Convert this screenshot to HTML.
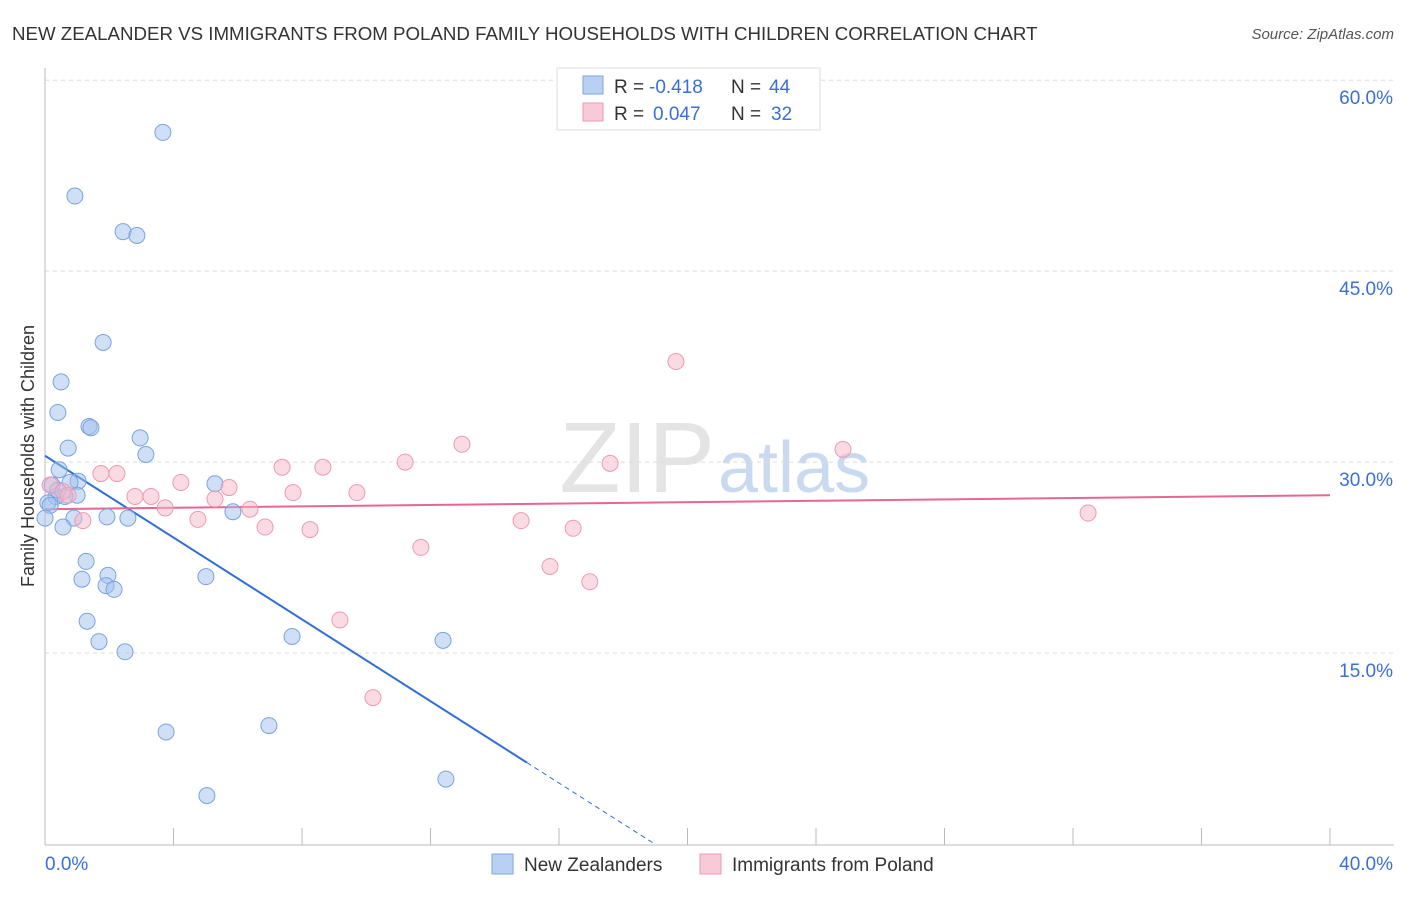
<!DOCTYPE html>
<html><head><meta charset="utf-8"><style>
body{margin:0;background:#fff;font-family:"Liberation Sans",sans-serif;}
svg text{font-family:"Liberation Sans",sans-serif;}
</style></head><body>
<svg id="chart" width="1406" height="892" xmlns="http://www.w3.org/2000/svg">
<text x="12" y="40" font-size="18.7" fill="#333">NEW ZEALANDER VS IMMIGRANTS FROM POLAND FAMILY HOUSEHOLDS WITH CHILDREN CORRELATION CHART</text>
<text x="1394" y="39" font-size="15" fill="#555" font-style="italic" text-anchor="end">Source: ZipAtlas.com</text>
<text x="715" y="492" font-size="100" fill="#e4e4e4" font-family="Liberation Serif" text-anchor="end">ZIP</text>
<text x="718" y="492" font-size="72" fill="#c9daf0">atlas</text>
<g id="grid"></g><g id="axes"></g><g id="trends"></g><g id="points"></g>
<text transform="translate(34,456) rotate(-90)" font-size="18" fill="#333" text-anchor="middle">Family Households with Children</text>
<g>
<rect x="557" y="68" width="263" height="62" fill="#fff" stroke="#ddd"/>
<rect x="583" y="76" width="20" height="18" fill="#b8d0f2" stroke="#7ea6e0"/>
<rect x="583" y="103" width="20" height="18" fill="#f8c9d6" stroke="#eb9bb4"/>
<text x="614" y="93" font-size="19" fill="#333">R =</text>
<text x="649" y="93" font-size="19" fill="#3a6fd8">-0.418</text>
<text x="731" y="93" font-size="19" fill="#333">N =</text>
<text x="769" y="93" font-size="19" fill="#3a6fd8">44</text>
<text x="614" y="120" font-size="19" fill="#333">R =</text>
<text x="653" y="120" font-size="19" fill="#3a6fd8">0.047</text>
<text x="731" y="120" font-size="19" fill="#333">N =</text>
<text x="771" y="120" font-size="19" fill="#3a6fd8">32</text>
</g>
<g>
<rect x="492" y="854" width="21" height="20" fill="#b8d0f2" stroke="#7ea6e0"/>
<text x="524" y="871" font-size="19" fill="#333">New Zealanders</text>
<rect x="700" y="854" width="21" height="20" fill="#f8c9d6" stroke="#eb9bb4"/>
<text x="732" y="871" font-size="19" fill="#333">Immigrants from Poland</text>
</g>
</svg>
<script>
const blueX=[3.67,0.93,2.43,2.86,1.81,0.50,0.40,1.37,1.43,2.96,0.72,3.14,0.44,5.29,1.03,0.78,0.34,1.00,0.62,0.09,0.16,5.85,1.93,2.58,0.90,0.56,0.0,1.28,1.15,1.96,5.01,1.90,2.15,1.31,1.68,2.49,7.69,12.39,6.97,3.77,12.48,5.04,0.22,0.40];
const blueY=[55.9,50.9,48.1,47.8,39.4,36.3,33.9,32.8,32.7,31.9,31.1,30.6,29.4,28.3,28.5,28.4,27.3,27.4,27.3,26.8,26.6,26.1,25.7,25.6,25.6,24.9,25.6,22.2,20.8,21.1,21.0,20.3,20.0,17.5,15.9,15.1,16.3,16.0,9.3,8.8,5.1,3.8,28.2,27.8];
const pinkX=[0.16,0.56,0.72,1.18,1.74,2.24,2.80,3.30,3.74,4.23,4.76,5.29,5.73,6.38,6.85,7.38,7.72,8.25,8.65,9.18,9.71,10.21,11.21,11.70,12.98,14.82,15.72,16.44,16.96,17.59,19.64,24.84,32.47];
const pinkY=[28.2,27.7,27.4,25.4,29.1,29.1,27.3,27.3,26.4,28.4,25.5,27.1,28.0,26.3,24.9,29.6,27.6,24.7,29.6,17.6,27.6,11.5,30.0,23.3,31.4,25.4,21.8,24.8,20.6,29.9,37.9,31.0,26.0];
const yTicks=[15,30,45,60];
const yTickLabels=["15.0%","30.0%","45.0%","60.0%"];
const xTicks=[0,4,8,12,16,20,24,28,32,36,40];
const blueTrend=[30.5,-1.607];
const pinkTrend=[26.3,0.0275];
const NS="http://www.w3.org/2000/svg";
const sx=v=>45+v*32.125, sy=v=>844-v*12.73;
function mk(tag,attrs,parent){const e=document.createElementNS(NS,tag);for(const k in attrs)e.setAttribute(k,attrs[k]);document.getElementById(parent).appendChild(e);return e;}
yTicks.forEach((t,i)=>{
 const l=mk('line',{x1:45,x2:1394,y1:sy(t),y2:sy(t),stroke:'#ddd','stroke-dasharray':'4,4'},'grid');
 
 
 const tx=mk('text',{x:1393,y:sy(t)+24,'font-size':19,fill:'#3a6fd8','text-anchor':'end'},'grid');
 tx.textContent=yTickLabels[i];
 
 
});
const ax=mk('line',{x1:45,x2:1394,y1:845,y2:845,stroke:'#bbb'},'axes');


const ay=mk('line',{x1:45,x2:45,y1:68,y2:845,stroke:'#bbb'},'axes');


xTicks.forEach(t=>{
 const l=mk('line',{x1:sx(t),x2:sx(t),y1:828,y2:845,stroke:'#bbb'},'axes');
 
 
});
const xl0=mk('text',{x:45,y:870,'font-size':19,fill:'#3a6fd8'},'axes');xl0.textContent='0.0%';


const xl1=mk('text',{x:1393,y:870,'font-size':19,fill:'#3a6fd8','text-anchor':'end'},'axes');xl1.textContent='40.0%';


blueX.forEach((x,i)=>{
 const c=mk('circle',{cx:sx(x),cy:sy(blueY[i]),r:8,fill:'rgba(160,192,238,0.5)',stroke:'#7aa3e0','stroke-width':1},'points');
 
 
});
pinkX.forEach((x,i)=>{
 const c=mk('circle',{cx:sx(x),cy:sy(pinkY[i]),r:8,fill:'rgba(246,184,202,0.5)',stroke:'#ec9ab3','stroke-width':1},'points');
 
 
});
const bt=x=>blueTrend[0]+blueTrend[1]*x, pt=x=>pinkTrend[0]+pinkTrend[1]*x;
const b1=mk('line',{x1:sx(0),y1:sy(bt(0)),x2:sx(15),y2:sy(bt(15)),stroke:'#2f6fd6','stroke-width':2},'trends');


const b2=mk('line',{x1:sx(15),y1:sy(bt(15)),x2:sx(19),y2:sy(bt(19)),stroke:'#2f6fd6','stroke-width':1,'stroke-dasharray':'5,4'},'trends');


const p1=mk('line',{x1:sx(0),y1:sy(pt(0)),x2:sx(40),y2:sy(pt(40)),stroke:'#e8668f','stroke-width':2},'trends');


</script>
</body></html>
